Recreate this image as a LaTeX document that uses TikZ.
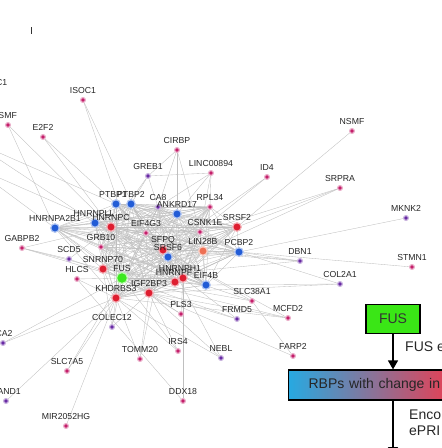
\documentclass[tikz,border=0pt]{standalone}
\usepackage{fontspec}
\setmainfont{Liberation Sans}
\usetikzlibrary{arrows.meta,backgrounds}

\definecolor{pk}{RGB}{196,30,106}
\definecolor{pu}{RGB}{104,42,164}
\definecolor{rd}{RGB}{222,30,48}
\definecolor{bl}{RGB}{34,92,214}
\definecolor{gn}{RGB}{60,232,30}
\definecolor{og}{RGB}{238,112,84}
\definecolor{fusgreen}{RGB}{58,230,22}
\definecolor{rbpblue}{RGB}{39,169,225}
\definecolor{rbpred}{RGB}{252,52,68}

\tikzset{
  dot/.style={circle, inner sep=0pt, line width=1.2pt},
  pkdot/.style={dot, minimum size=4.8pt, fill=pk, draw=pk!35},
  pudot/.style={dot, minimum size=4.8pt, fill=pu, draw=pu!35},
  rddot/.style={dot, minimum size=8.5pt, fill=rd, draw=rd!35},
  bldot/.style={dot, minimum size=8.5pt, fill=bl, draw=bl!35},
  ogdot/.style={dot, minimum size=8.5pt, fill=og, draw=og!35},
  gndot/.style={dot, minimum size=11pt, fill=gn, draw=gn!35},
  lab/.style={font=\fontsize{8.7}{9}\selectfont, text=black!85, inner sep=0pt, anchor=south},
  link/.style={draw=black!25, line width=0.35pt},
  note/.style={font=\fontsize{14}{16}\selectfont, text=black!85, inner sep=0pt},
  fusbox/.style={draw=black, line width=1.2pt, fill=fusgreen, minimum width=54pt,
    minimum height=29pt, font=\fontsize{14}{16}\selectfont, text=black!80},
  rbpbox/.style={draw=black, line width=1.2pt, left color=rbpblue, right color=rbpred,
    minimum height=30pt, text width=140pt, inner xsep=20pt, align=left, anchor=west,
    font=\fontsize{14}{16}\selectfont, text=black!85},
  flow/.style={line width=1.3pt, -{Triangle[length=9pt,width=10pt]}},
}

% dot with its name above
\newcommand{\gene}[5][0]{%
  \node[#2] (#3) at (#4) {};
  \node[lab] (#3-l) at ([xshift=#1pt, yshift=6pt]#3.center) {#5};}

\begin{document}
\begin{tikzpicture}[x=1pt, y=-1pt]
\useasboundingbox (0,0) rectangle (442,448);

\draw[line width=0.6pt, black!80] (31,27) -- (31,34);
\node[lab, anchor=east] (cone-l) at (7.5,83) {C1};

% outer genes
\gene{pkdot}{isoc}{83,100}{ISOC1}
\gene{pkdot}{etwo}{43,137}{E2F2}
\gene[-3.5]{pkdot}{nsmfl}{8,125}{NSMF}
\gene{pkdot}{cirbp}{177,150}{CIRBP}
\gene{pkdot}{nsmfr}{352,131}{NSMF}
\gene{pkdot}{linc}{211,173}{LINC00894}
\gene{pkdot}{idfour}{267,177}{ID4}
\gene{pudot}{greb}{148,176}{GREB1}
\gene{pkdot}{srpra}{340,188}{SRPRA}
\gene{pudot}{dbn}{300,261}{DBN1}
\gene{pudot}{mknk}{406,218}{MKNK2}
\gene{pkdot}{stmn}{412,267}{STMN1}
\gene{pudot}{col}{340,284}{COL2A1}
\gene{pkdot}{slcta}{252,301}{SLC38A1}
\gene{pudot}{frmd}{237,319}{FRMD5}
\gene{pkdot}{mcfd}{288,318}{MCFD2}
\gene{pkdot}{farp}{293,356}{FARP2}
\gene{pudot}{nebl}{221,358}{NEBL}
\gene{pkdot}{pls}{181,314}{PLS3}
\gene{pkdot}{irs}{178,351}{IRS4}
\gene{pkdot}{tomm}{140,359}{TOMM20}
\gene{pudot}{colec}{112,327}{COLEC12}
\gene{pkdot}{slcsf}{67,371}{SLC7A5}
\gene{pudot}{hand}{6,401}{HAND1}
\gene[1]{pudot}{caa}{3,343}{CA2}
\gene{pkdot}{mir}{66,426}{MIR2052HG}
\gene{pkdot}{ddx}{183,401}{DDX18}
\gene{pudot}{scd}{69,259}{SCD5}
\gene{pkdot}{gabp}{22,248}{GABPB2}
\gene{pkdot}{hlcs}{77,279}{HLCS}

% central RBPs
\gene{pkdot}{rpl}{210,207}{RPL34}
\gene{pudot}{ca}{158,207}{CA8}
\gene{bldot}{ankrd}{177,214}{ANKRD17}
\gene[-3]{bldot}{ptbpa}{116,204}{PTBP1}
\gene{bldot}{ptbpb}{131,204}{PTBP2}
\gene{bldot}{hnrnpab}{55,228}{HNRNPA2B1}
\gene[-1]{bldot}{hnrnpll}{95,223}{HNRNPLL}
\gene{rddot}{hnrnpc}{111,227}{HNRNPC}
\gene{pkdot}{eifg}{146,233}{EIF4G3}
\gene{pkdot}{grb}{101,247}{GRB10}
\gene{rddot}{snrnp}{103,269}{SNRNP70}
\gene{rddot}{khdr}{116,298}{KHDRBS3}
\gene{rddot}{igf}{149,293}{IGF2BP3}
\gene[-3]{rddot}{hnrnph}{183,278}{HNRNPH1}
\gene[-1]{rddot}{hnrnpf}{175,282}{HNRNPF}
\gene{bldot}{eifb}{206,285}{EIF4B}
\gene{rddot}{sfpq}{163,250}{SFPQ}
\gene{bldot}{srsff}{168,257}{SRSF6}
\gene[5]{pkdot}{csnk}{200,232}{CSNK1E}
\gene{rddot}{srsfb}{237,227}{SRSF2}
\gene{ogdot}{lin}{203,251}{LIN28B}
\gene{bldot}{pcbp}{239,252}{PCBP2}
\gene{gndot}{fus}{122,278}{FUS}

\coordinate (offa) at (-30,140);
\coordinate (offb) at (-30,165);

% interactions
\begin{scope}[on background layer]
\def\hubs{fus,hnrnpc,ptbpa,ptbpb,hnrnpll,hnrnpab,ankrd,sfpq,srsff,hnrnph,hnrnpf,igf,khdr,snrnp,eifb,pcbp,srsfb,lin,csnk,eifg,grb,ca,rpl}
\foreach \a [count=\i] in \hubs {
  \foreach \b [count=\j] in \hubs {
    \ifnum\j>\i \draw[link] (\a) -- (\b); \fi
  }
}
\foreach \a/\b in {isoc/igf, isoc/eifg, etwo/ptbpa, etwo/hnrnpc, nsmfl/hnrnpab, nsmfl/hnrnpc,
    offa/ptbpa, offa/hnrnpll, offb/hnrnpc, offb/hnrnpab,
    cirbp/greb, cirbp/ankrd, cirbp/ca, cirbp/csnk, nsmfr/srsfb,
    linc/greb, linc/rpl, linc/ankrd, linc/ca, linc/csnk, idfour/sfpq, idfour/srsff,
    greb/ptbpb, greb/hnrnpc, greb/ca, srpra/srsfb, srpra/csnk, srpra/lin,
    mknk/pcbp, stmn/pcbp, dbn/pcbp, dbn/lin, dbn/sfpq, dbn/fus,
    col/igf, col/eifb, col/pcbp, slcta/hnrnph, slcta/sfpq, slcta/fus, slcta/farp,
    mcfd/fus, mcfd/khdr, mcfd/igf, mcfd/sfpq, farp/igf, frmd/fus, frmd/igf, frmd/hnrnph,
    nebl/sfpq, nebl/igf, nebl/khdr, pls/fus, pls/igf, pls/hnrnph,
    irs/igf, irs/khdr, irs/fus, tomm/igf, tomm/khdr, tomm/sfpq, ddx/hlcs, ddx/hnrnph,
    colec/fus, colec/khdr, colec/snrnp, colec/igf, slcsf/fus, slcsf/khdr,
    mir/khdr, hand/khdr, caa/fus, caa/khdr,
    gabp/hnrnpc, gabp/scd, gabp/snrnp, gabp/fus, scd/fus, scd/hnrnpc, hlcs/fus, hlcs/khdr}
  \draw[link] (\a) -- (\b);
\end{scope}

% legend
\node[fusbox] (fusbox) at (393,319) {FUS};
\node[rbpbox] (rbp) at (288,385) {RBPs with change in};
\draw[flow] (fusbox) -- (fusbox.south |- rbp.north);
\node[note, anchor=west] (fuse) at (405,347) {FUS e};
\coordinate (down) at (393,456);
\draw[flow] (rbp.south -| fusbox) -- (down);
\node[note, anchor=west, align=left] (enco) at (409,423) {Enco\\ePRI};
\end{tikzpicture}
\end{document}
